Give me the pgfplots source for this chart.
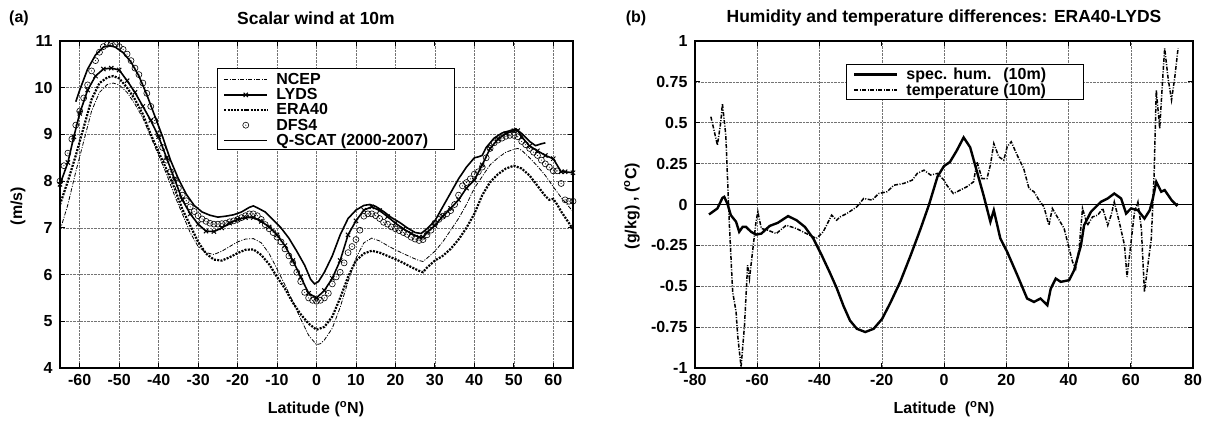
\documentclass[border=0pt]{standalone}
\usepackage{pgfplots}
\pgfplotsset{compat=1.18}
\usepackage{fontspec}
\usepackage{calc}
\setmainfont{Liberation Sans}

% circle with a dot in the middle, as gnuplot draws DFS4
\pgfdeclareplotmark{odot}{%
  \pgfpathcircle{\pgfpointorigin}{\pgfplotmarksize}\pgfusepathqstroke
  \pgfpathcircle{\pgfpointorigin}{0.55pt}\pgfusepathqfill}

\pgfplotsset{
  panel/.style={
    scale only axis,
    anchor=south west,
    height=327pt,
    axis line style={line width=1.1pt},
    grid=major,
    major grid style={densely dotted, black!55, line width=0.5pt},
    tick style={black, line width=0.8pt},
    major tick length=5pt,
    tick align=inside,
    /pgf/number format/assume math mode=true,
    yticklabel style={xshift=-4pt},
    xticklabel style={yshift=-3pt},
    legend cell align=left,
    legend style={draw=none, fill=none,
      font=\fontsize{16}{14}\selectfont\bfseries, inner xsep=0pt, inner ysep=3pt, row sep=-1.5pt},
    legend image code/.code={
      \path (-6pt,0pt) (49pt,0pt);
      \draw[mark repeat=2, mark phase=2, ##1] plot coordinates {(0pt,0pt) (21.5pt,0pt) (43pt,0pt)};},
  },
}

\begin{document}
\begin{tikzpicture}[font=\fontsize{16}{18}\selectfont\bfseries]
\path[use as bounding box] (0pt,0pt) rectangle (1215pt,426pt);

% ---------------- (a) scalar wind ----------------
\begin{axis}[panel,
  at={(60pt,58pt)}, width=513pt,
  xmin=-65, xmax=65, ymin=4, ymax=11,
  xtick={-60,-50,...,60}, ytick={4,5,...,11},
  legend style={at={(0.306,0.917)}, anchor=north west},
]
% NCEP
\addplot[black, line width=0.8pt, dash pattern=on 4pt off 1.5pt on 1pt off 1.5pt] coordinates {
(-65,6.94) (-63,7.5) (-61,8.2) (-59,8.85) (-57,9.5) (-55,9.9) (-53,10.07) (-51.5,10.1)
(-50,10.06) (-48,9.9) (-46,9.65) (-44,9.35) (-42,8.95) (-40,8.55) (-38,8.15) (-36,7.7)
(-34,7.3) (-32,6.9) (-30,6.6) (-28,6.47) (-26,6.43) (-24,6.5) (-22,6.6) (-20,6.7)
(-18,6.76) (-16,6.77) (-14,6.68) (-12,6.45) (-10,6.12) (-8,5.78) (-6,5.42) (-4,5.05)
(-2,4.7) (0,4.5) (1,4.52) (2,4.6) (4,4.85) (6,5.3) (8,5.85) (10,6.35) (12,6.68) (14,6.78)
(16,6.72) (18,6.62) (20,6.53) (22,6.45) (24,6.37) (26,6.3) (27,6.28) (28,6.35) (30,6.5)
(32,6.7) (34,6.95) (36,7.2) (38,7.5) (40,7.85) (42,8.1) (44,8.35) (46,8.5) (48,8.62)
(50,8.68) (51,8.7) (52,8.66) (54,8.5) (56,8.32) (58,8.12) (60,7.88) (62,7.65) (64,7.45) (65,7.35)
};
\addlegendentry{NCEP}
% LYDS
\addplot[black, line width=1.6pt, mark=x, mark size=3pt, mark options={solid, line width=1pt}] coordinates {
(-65,7.93) (-63,8.4) (-61.5,8.95) (-60,9.45) (-58,9.95) (-56,10.25) (-54,10.4) (-52,10.42)
(-50,10.38) (-48,10.15) (-46,9.9) (-44,9.6) (-42,9.3) (-40,8.95) (-38,8.5) (-36,8.05)
(-34,7.6) (-32,7.3) (-30,7.08) (-28,6.93) (-26,6.92) (-24,7.0) (-22,7.1) (-20,7.18)
(-18,7.22) (-16,7.22) (-14,7.14) (-12,7.02) (-10,6.85) (-8,6.62) (-6,6.3) (-4,5.95)
(-2,5.6) (0,5.5) (2,5.66) (4,5.92) (6,6.3) (8,6.85) (10,7.15) (12,7.38) (14,7.45)
(16,7.37) (18,7.24) (20,7.1) (22,6.98) (24,6.88) (26,6.8) (27,6.8) (28,6.9) (30,7.05)
(32,7.25) (34,7.42) (36,7.6) (38,7.85) (40,8.02) (42,8.35) (44,8.7) (46,8.9) (48,9.02)
(50,9.08) (51,9.08) (52,8.95) (54,8.75) (56,8.65) (58,8.55) (60,8.48) (62,8.2) (63,8.2) (65,8.18)
};
\addlegendentry{LYDS}
% ERA40
\addplot[black, line width=2.2pt, dash pattern=on 2pt off 1.3pt] coordinates {
(-65,7.5) (-63,8.0) (-61,8.55) (-59,9.15) (-57,9.75) (-55,10.1) (-53,10.22) (-51.5,10.25)
(-50,10.2) (-48,10.0) (-46,9.75) (-44,9.43) (-42,9.0) (-40,8.62) (-38,8.25) (-36,7.85)
(-34,7.4) (-32,7.05) (-30,6.7) (-28,6.45) (-26,6.32) (-24,6.3) (-22,6.37) (-20,6.46)
(-18,6.53) (-16,6.54) (-14,6.42) (-12,6.22) (-10,5.95) (-8,5.7) (-6,5.4) (-4,5.15)
(-2,4.95) (0,4.82) (2,4.88) (4,5.1) (6,5.5) (8,5.95) (10,6.3) (12,6.45) (14,6.51)
(16,6.47) (18,6.4) (20,6.33) (22,6.25) (24,6.16) (26,6.08) (27,6.05) (28,6.15) (30,6.3)
(32,6.4) (34,6.55) (36,6.75) (38,7.0) (40,7.3) (42,7.7) (44,7.98) (46,8.15) (48,8.27)
(50,8.33) (52,8.27) (54,8.12) (56,7.9) (58,7.68) (59,7.6) (60,7.62) (61,7.5) (62,7.35) (64,7.1) (65,6.97)
};
\addlegendentry{ERA40}
% DFS4
\addplot[black, only marks, mark=odot, mark size=3pt, mark options={line width=0.6pt}] coordinates {
(-65,8.0) (-64,8.33) (-63,8.6) (-62,8.9) (-61,9.2) (-60,9.5) (-59,9.78) (-58,10.06)
(-57,10.36) (-56,10.58) (-55,10.76) (-54,10.88) (-53,10.93) (-52,10.95) (-51,10.93)
(-50,10.88) (-49,10.82) (-48,10.72) (-47,10.58) (-46,10.42) (-45,10.28) (-44,10.1)
(-43,9.88) (-42,9.6) (-41,9.3) (-40,9.0) (-39,8.72) (-38,8.45) (-37,8.2) (-36,8.02)
(-35,7.85) (-34,7.7) (-33,7.58) (-32,7.45) (-31,7.35) (-30,7.26) (-29,7.19) (-28,7.14)
(-27,7.1) (-26,7.08) (-25,7.08) (-24,7.09) (-23,7.1) (-22,7.13) (-21,7.15) (-20,7.18)
(-19,7.22) (-18,7.26) (-17,7.3) (-16,7.3) (-15,7.26) (-14,7.18) (-13,7.07) (-12,6.98)
(-11,6.9) (-10,6.8) (-9,6.7) (-8,6.55) (-7,6.4) (-6,6.25) (-5,6.05) (-4,5.85) (-3,5.62)
(-2,5.5) (-1,5.45) (0,5.43) (1,5.45) (2,5.5) (3,5.6) (4,5.8) (5,5.95) (6,6.05) (7,6.25)
(8,6.47) (9,6.6) (10,6.75) (11,6.95) (12,7.25) (13,7.3) (14,7.3) (15,7.26) (16,7.2)
(17,7.12) (18,7.08) (19,7.02) (20,6.98) (21,6.94) (22,6.9) (23,6.86) (24,6.8) (25,6.76)
(26,6.73) (27,6.75) (28,6.85) (29,6.95) (30,7.1) (31,7.18) (32,7.25) (33,7.3) (34,7.37)
(35,7.5) (36,7.7) (37,7.9) (38,7.97) (39,8.05) (40,8.15) (41,8.2) (42,8.3) (43,8.5)
(44,8.7) (45,8.82) (46,8.88) (47,8.92) (48,8.96) (49,8.98) (50,8.98) (51,8.95) (52,8.85)
(53,8.78) (54,8.7) (55,8.62) (56,8.55) (57,8.45) (58,8.37) (59,8.3) (60,8.22) (61,8.22)
(62,7.95) (63,7.6) (64,7.57) (65,7.57)
};
\addlegendentry{DFS4}
% Q-SCAT
\addplot[black, line width=1.6pt] coordinates {
(-61,9.7) (-60,9.95) (-58,10.4) (-56,10.7) (-54,10.87) (-52.5,10.9) (-51,10.87) (-49,10.75)
(-47,10.55) (-45,10.25) (-43,9.85) (-41,9.4) (-39,8.95) (-37,8.45) (-35,8.05) (-33,7.72)
(-31,7.48) (-29,7.34) (-27,7.27) (-25,7.23) (-23,7.25) (-21,7.28) (-19,7.34) (-17,7.44)
(-16,7.47) (-15,7.43) (-13,7.34) (-11,7.17) (-9,7.0) (-7,6.78) (-5,6.5) (-3,6.2)
(-1.5,5.9) (-0.5,5.8) (0.5,5.85) (2,6.05) (4,6.4) (6,6.85) (8,7.2) (10,7.38) (12,7.48)
(13.5,7.5) (15,7.46) (17,7.35) (19,7.22) (21,7.12) (23,7.0) (25,6.9) (26.5,6.88) (28,6.98)
(30,7.15) (32,7.45) (34,7.75) (36,8.05) (38,8.3) (40,8.5) (41,8.52) (42,8.55) (43,8.72)
(45,8.92) (47,9.03) (49,9.08) (50.5,9.12) (52,9.02) (54,8.85) (55.5,8.76) (57,8.8) (58,8.82)
};
\addlegendentry{Q-SCAT (2000-2007)}
% legend frame, as wide as gnuplot's
\draw[fill=white, line width=0.9pt] (rel axis cs:0.306,0.917) rectangle (rel axis cs:0.768,0.667);
\end{axis}

% ---------------- (b) differences ----------------
\begin{axis}[panel,
  at={(695pt,58pt)}, width=498pt,
  xmin=-80, xmax=80, ymin=-1, ymax=1,
  xtick={-80,-60,...,80}, ytick={-1,-0.75,-0.5,-0.25,0,0.25,0.5,0.75,1},
  legend style={at={(0.305,0.933)}, anchor=north west},
]
\addplot[black, line width=0.8pt, forget plot] coordinates {(-80,0) (80,0)};
% specific humidity
\addplot[black, line width=2.4pt] coordinates {
(-75.5,-0.061) (-72.8,-0.024) (-71.2,0.04) (-70.6,0.047) (-69.5,0) (-68.5,-0.065)
(-66.8,-0.106) (-65.8,-0.167) (-64.7,-0.137) (-63.6,-0.137) (-62,-0.167) (-60.4,-0.184)
(-58.7,-0.178) (-56,-0.131) (-53.4,-0.112) (-50.1,-0.071) (-47.4,-0.096) (-44.7,-0.137)
(-42,-0.208) (-39.3,-0.31) (-36.6,-0.42) (-34.5,-0.51) (-32.3,-0.62) (-30.2,-0.71)
(-28,-0.76) (-25.3,-0.78) (-22.6,-0.76) (-19.9,-0.70) (-17.2,-0.6) (-14,-0.47)
(-10.7,-0.31) (-7.5,-0.147) (-4.8,0) (-2.1,0.17) (0,0.235) (1.9,0.26) (4.1,0.33)
(6.3,0.41) (8.4,0.35) (10.6,0.2) (12.7,0.057) (14.9,-0.106) (16,-0.035) (18.1,-0.208)
(20.3,-0.29) (23.5,-0.43) (26.7,-0.575) (28.9,-0.596) (31,-0.575) (33.2,-0.616)
(34.3,-0.514) (35.9,-0.453) (37.5,-0.473) (40.2,-0.463) (41.8,-0.402) (44,-0.25)
(45,-0.127) (47.2,-0.045) (50.4,0.016) (52.6,0.037) (54.7,0.067) (56.9,0.037)
(58.5,-0.055) (60.1,-0.024) (62.3,-0.035) (64.4,-0.086) (66.1,-0.035) (67.1,0.037)
(68.2,0.139) (69.8,0.078) (70.9,0.088) (73.1,0.027) (74.7,-0.004) (75.2,0.005)
};
\addlegendentry{\makebox[\widthof{temperature\ }][l]{spec. hum.}(10m)}
% temperature
\addplot[black, line width=1.5pt, dash pattern=on 4pt off 1.5pt on 1pt off 1.5pt] coordinates {
(-74.9,0.537) (-73.9,0.455) (-72.8,0.363) (-71.7,0.506) (-71.2,0.618) (-70.1,0.424)
(-69,-0.106) (-67.9,-0.535) (-66.8,-0.657) (-66.3,-0.8) (-65.2,-0.994) (-64.1,-0.74)
(-63.1,-0.371) (-62.5,-0.453) (-61.4,-0.27) (-60.4,-0.106) (-59.8,-0.045) (-58.7,-0.147)
(-56.6,-0.157) (-53.9,-0.178) (-50.7,-0.127) (-47.4,-0.147) (-44.2,-0.178) (-41,-0.208)
(-38.8,-0.167) (-36.1,-0.065) (-34.5,-0.096) (-33.4,-0.076) (-31.2,-0.055) (-28,-0.014)
(-25.8,0.037) (-23.1,0.027) (-21,0.067) (-18.3,0.078) (-16.1,0.118) (-12.9,0.129)
(-10.2,0.149) (-8.6,0.19) (-6.4,0.21) (-4.3,0.18) (-2.1,0.19) (0,0.149) (0.9,0.118)
(3,0.067) (5.2,0.088) (7.3,0.108) (9.5,0.139) (10.6,0.261) (12.2,0.159) (13.8,0.159)
(14.9,0.241) (16,0.373) (17.6,0.292) (19.2,0.271) (20.3,0.353) (21.6,0.384) (23.5,0.302)
(25.6,0.22) (27.3,0.098) (28.9,0.078) (30.5,0.027) (32.1,-0.014) (33.7,-0.127)
(34.8,-0.024) (36.4,-0.076) (38.6,-0.147) (40.2,-0.27) (41.3,-0.351) (42.3,-0.392)
(43.4,-0.27) (44.5,-0.024) (46.1,-0.127) (47.7,-0.076) (49.4,-0.065) (51,-0.024)
(52.6,-0.127) (53.7,-0.065) (54.7,0.016) (56.3,-0.106) (58,-0.25) (58.8,-0.443)
(60.1,-0.229) (61.2,-0.045) (62.3,0.016) (63.4,-0.147) (64.4,-0.535) (65.5,-0.371)
(66.6,-0.208) (67.5,0.18) (68.2,0.7) (69.3,0.465) (70.4,0.812) (70.9,0.955) (72,0.771)
(73.1,0.639) (74.1,0.771) (75.2,0.955)
};
\addlegendentry{temperature (10m)}
% legend frame
\draw[fill=white, line width=0.9pt] (rel axis cs:0.305,0.927) rectangle (rel axis cs:0.779,0.821);
\end{axis}

% titles and labels
\node at (19pt,408pt) {(a)};
\node[font=\fontsize{17.5}{20}\selectfont\bfseries] at (316pt,408pt) {Scalar wind at 10m};
\node at (636pt,408pt) {(b)};
\node[font=\fontsize{17.5}{20}\selectfont\bfseries] at (944pt,408pt) {Humidity and temperature differences: ERA40-LYDS};
\node[rotate=90] at (18pt,220pt) {(m/s)};
\node[rotate=90] at (632pt,220pt) {(g/kg) , (\textsuperscript{o}C)};
\node at (316pt,17pt) {Latitude (\textsuperscript{o}N)};
\node at (944pt,17pt) {Latitude\ \ (\textsuperscript{o}N)};
\end{tikzpicture}
\end{document}
